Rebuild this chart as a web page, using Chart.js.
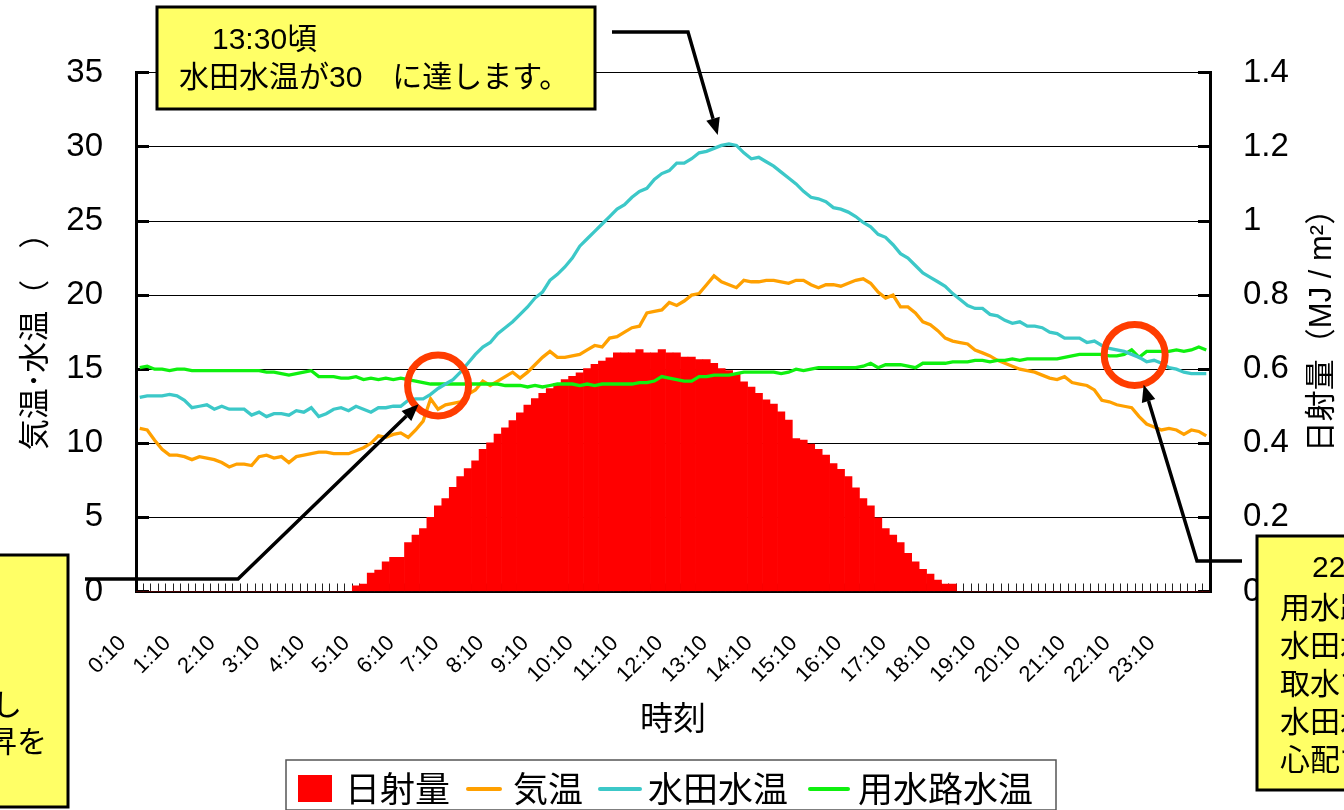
<!DOCTYPE html>
<html lang="ja">
<head>
<meta charset="utf-8">
<title>気温・水温と日射量</title>
<script src="https://cdn.jsdelivr.net/npm/chart.js@4.4.1/dist/chart.umd.min.js"></script>
<style>
  html, body { margin: 0; padding: 0; background: #fff; }
  #contenedor { width: 1344px; height: 810px; }
</style>
</head>
<body>
<div id="contenedor"><canvas id="myChart" width="1344" height="810"></canvas></div>
<script>
// ---- DATOS (10 minutos, 0:10 - 24:00) ----
let horas = []
for (let k = 1; k <= 144; k++) {
    let m = k * 10
    horas.push(`${Math.floor(m / 60)}:${String(m % 60).padStart(2, '0')}`)
}

// 日射量 (MJ/m2)
const radiacion = [
    0,0,0,0,0,0, 0,0,0,0,0,0, 0,0,0,0,0,0, 0,0,0,0,0,0,
    0,0,0,0,0,0.015, 0.02,0.05,0.058,0.08,0.092,0.092,
    0.132,0.152,0.17,0.2,0.231,0.251, 0.281,0.31,0.332,0.353,0.384,0.401,
    0.425,0.442,0.461,0.482,0.503,0.521, 0.535,0.548,0.562,0.572,0.581,0.59,
    0.602,0.613,0.622,0.631,0.644,0.644, 0.644,0.653,0.644,0.644,0.653,0.644,
    0.644,0.633,0.633,0.626,0.626,0.616, 0.602,0.596,0.586,0.566,0.552,0.535,
    0.517,0.506,0.485,0.463,0.413,0.409, 0.398,0.384,0.368,0.345,0.33,0.31,
    0.28,0.251,0.231,0.199,0.17,0.152, 0.132,0.103,0.08,0.06,0.047,0.031,
    0.02,0.02,0,0,0,0, 0,0,0,0,0,0,
    0,0,0,0,0,0, 0,0,0,0,0,0, 0,0,0,0,0,0, 0,0,0,0,0,0
]

// 気温
const kion = [
    11.0,10.9,10.2,9.6,9.2,9.2, 9.1,8.9,9.1,9.0,8.9,8.7,
    8.4,8.6,8.6,8.5,9.1,9.2, 9.0,9.1,8.7,9.1,9.2,9.3,
    9.4,9.4,9.3,9.3,9.3,9.5, 9.7,10.0,10.5,10.4,10.6,10.7,
    10.4,10.9,11.5,13.0,12.3,12.6, 12.7,12.8,13.3,13.6,14.2,13.9,
    14.2,14.5,14.8,14.4,14.8,15.3, 15.8,16.2,15.8,15.8,15.9,16.0,
    16.3,16.6,16.5,17.1,17.2,17.5, 17.8,17.9,18.8,18.9,19.0,19.5,
    19.3,19.6,20.0,20.1,20.7,21.3, 20.9,20.7,20.5,21.0,20.9,20.9,
    21.0,21.0,20.9,20.8,21.0,21.0, 20.7,20.5,20.7,20.7,20.6,20.8,
    21.0,21.1,20.8,20.2,19.8,20.0, 19.2,19.2,18.8,18.2,18.0,17.6,
    17.1,16.9,16.8,16.7,16.3,16.1, 15.9,15.6,15.4,15.2,15.0,14.9,
    14.8,14.6,14.4,14.3,14.5,14.1, 14.0,13.9,13.6,12.9,12.8,12.6,
    12.5,12.4,11.8,11.3,11.1,10.9, 11.0,10.9,10.6,10.9,10.8,10.5
]

// 水田水温
const suidenSuion = [
    13.1,13.2,13.2,13.2,13.3,13.2, 12.9,12.4,12.5,12.6,12.3,12.5,
    12.3,12.3,12.3,11.9,12.1,11.8, 12.0,12.0,11.9,12.2,12.1,12.4,
    11.8,12.0,12.3,12.4,12.2,12.5, 12.3,12.1,12.4,12.4,12.5,12.5,
    12.9,13.0,13.0,13.3,13.7,14.0, 14.3,14.8,15.4,16.0,16.5,16.8,
    17.4,17.8,18.2,18.7,19.2,19.8, 20.2,21.0,21.4,21.9,22.5,23.3,
    23.8,24.3,24.8,25.3,25.8,26.1, 26.6,27.0,27.2,27.8,28.2,28.4,
    28.9,28.9,29.2,29.6,29.7,29.9, 30.1,30.2,30.1,29.6,29.2,29.3,
    29.0,28.7,28.3,27.9,27.5,27.0, 26.6,26.5,26.3,25.9,25.8,25.6,
    25.3,24.9,24.6,24.1,23.9,23.4, 22.8,22.5,22.0,21.5,21.2,20.9,
    20.6,20.1,19.7,19.3,19.1,19.1, 18.7,18.6,18.3,18.1,18.2,17.9,
    17.9,17.8,17.5,17.4,17.1,17.1, 17.1,16.8,16.9,16.6,16.4,16.3,
    16.2,16.0,15.8,15.5,15.6,15.4, 15.1,15.0,14.8,14.7,14.7,14.7
]

// 用水路水温
const yousuiroSuion = [
    15.1,15.2,15.0,15.0,14.9,15.0, 15.0,14.9,14.9,14.9,14.9,14.9,
    14.9,14.9,14.9,14.9,14.9,14.8, 14.8,14.7,14.6,14.7,14.8,14.9,
    14.5,14.5,14.5,14.4,14.4,14.5, 14.3,14.4,14.3,14.4,14.3,14.4,
    14.3,14.2,14.1,14.0,14.0,14.0, 14.0,14.0,14.0,14.0,14.0,14.0,
    14.0,13.9,13.9,13.9,13.8,13.9, 13.8,13.9,14.0,14.0,14.0,13.9,
    14.0,13.9,14.0,14.0,14.0,14.0, 14.0,14.1,14.1,14.2,14.5,14.4,
    14.3,14.2,14.2,14.5,14.5,14.6, 14.6,14.6,14.7,14.8,14.8,14.8,
    14.8,14.8,14.7,14.8,15.0,14.9, 15.0,15.1,15.1,15.1,15.1,15.1,
    15.1,15.2,15.4,15.1,15.3,15.3, 15.3,15.2,15.1,15.4,15.4,15.4,
    15.4,15.5,15.5,15.5,15.6,15.6, 15.5,15.6,15.6,15.7,15.6,15.7,
    15.7,15.7,15.7,15.7,15.8,15.9, 16.0,16.0,16.0,16.0,15.9,15.9,
    16.0,16.3,15.8,16.2,16.2,16.2, 16.2,16.3,16.2,16.3,16.5,16.3
]

const nombres = ['日射量', '気温', '水田水温', '用水路水温']
const colores = ['#ff0000', '#ffa000', '#3cc8c8', '#0ff00f']

const fuenteNum = "'Liberation Sans', Arial, sans-serif"
const fuenteJp = "'Liberation Sans', 'Noto Sans CJK JP', sans-serif"

// ---- DIBUJOS DE APOYO ----
function caja(ctx, x1, y1, x2, y2) {
    ctx.fillStyle = '#ffff66'
    ctx.fillRect(x1, y1, x2 - x1, y2 - y1)
    ctx.lineWidth = 3
    ctx.strokeStyle = '#000'
    ctx.strokeRect(x1, y1, x2 - x1, y2 - y1)
}

function flecha(ctx, puntos, punta) {
    let prev = puntos[puntos.length - 1]
    let ang = Math.atan2(punta[1] - prev[1], punta[0] - prev[0])
    let largo = 17
    let base = [punta[0] - largo * Math.cos(ang), punta[1] - largo * Math.sin(ang)]
    ctx.strokeStyle = '#000'
    ctx.lineWidth = 3.5
    ctx.lineJoin = 'miter'
    ctx.beginPath()
    ctx.moveTo(puntos[0][0], puntos[0][1])
    puntos.slice(1).forEach(p => ctx.lineTo(p[0], p[1]))
    ctx.lineTo(base[0], base[1])
    ctx.stroke()
    ctx.fillStyle = '#000'
    ctx.beginPath()
    ctx.moveTo(punta[0], punta[1])
    ctx.lineTo(base[0] + 7 * Math.sin(ang), base[1] - 7 * Math.cos(ang))
    ctx.lineTo(base[0] - 7 * Math.sin(ang), base[1] + 7 * Math.cos(ang))
    ctx.closePath()
    ctx.fill()
}

function circulo(ctx, cx, cy) {
    ctx.strokeStyle = '#ff3c00'
    ctx.lineWidth = 7
    ctx.beginPath()
    ctx.arc(cx, cy, 30.5, 0, Math.PI * 2)
    ctx.stroke()
}

function textos(ctx, lineas, font) {
    ctx.font = font
    ctx.fillStyle = '#000'
    ctx.textBaseline = 'middle'
    lineas.forEach(([t, x, y, al]) => {
        ctx.textAlign = al || 'left'
        ctx.fillText(t, x, y)
    })
}

// ---- PLUGIN: TITULOS, LEYENDA Y ANOTACIONES ----
const anotaciones = {
    id: 'anotaciones',
    afterDraw(chart) {
        const ctx = chart.ctx
        const x = chart.scales.x
        const y = chart.scales.y
        ctx.save()

        // titulos de ejes
        ctx.fillStyle = '#000'
        ctx.textAlign = 'center'
        ctx.textBaseline = 'middle'
        ctx.font = "31px 'Noto Sans CJK JP', sans-serif"
        ctx.save()
        ctx.translate(33, 334)
        ctx.rotate(-Math.PI / 2)
        ctx.fillText('気温･水温（　）', 0, 0)
        ctx.restore()
        ctx.save()
        ctx.translate(1322, 323)
        ctx.rotate(-Math.PI / 2)
        ctx.font = "31px " + fuenteJp
        ctx.fillText('日射量（MJ / m²）', 0, 0)
        ctx.restore()
        ctx.font = "33px 'Noto Sans CJK JP', sans-serif"
        ctx.fillText('時刻', (chart.chartArea.left + chart.chartArea.right) / 2, 717)

        // leyenda
        ctx.strokeStyle = '#555'
        ctx.lineWidth = 1.5
        ctx.fillStyle = '#fff'
        ctx.fillRect(286, 760, 770, 50)
        ctx.strokeRect(286, 760, 770, 50)
        ctx.fillStyle = colores[0]
        ctx.fillRect(298, 775, 34, 27)
        let lineasLeyenda = [[468, 500], [600, 640], [810, 848]]
        lineasLeyenda.forEach(([a, b], k) => {
            ctx.strokeStyle = colores[k + 1]
            ctx.lineWidth = 4
            ctx.lineCap = 'round'
            ctx.beginPath()
            ctx.moveTo(a, 789)
            ctx.lineTo(b, 789)
            ctx.stroke()
        })
        ctx.lineCap = 'butt'
        textos(ctx, [
            [nombres[0], 345, 789], [nombres[1], 513, 789],
            [nombres[2], 648, 789], [nombres[3], 858, 789]
        ], "35px 'Noto Sans CJK JP', sans-serif")

        // circulos
        let c1 = [x.getPixelForValue(40), y.getPixelForValue(13.9)]
        let c2 = [x.getPixelForValue(133.4), y.getPixelForValue(15.96)]
        circulo(ctx, c1[0], c1[1])
        circulo(ctx, c2[0], c2[1])

        // caja superior
        caja(ctx, 157, 7, 595, 109)
        textos(ctx, [
            ['13:30頃', 212, 41],
            ['水田水温が30　に達します。', 179, 79]
        ], "30px " + fuenteJp)
        flecha(ctx, [[612, 32], [688, 32]], [x.getPixelForValue(77.5), y.getPixelForValue(30.8)])

        // caja izquierda
        caja(ctx, -5, 555, 68, 807)
        textos(ctx, [
            ['日射を受けて水温が上昇し', 22, 707, 'right'],
            ['用水路水温を超える上昇を', 47, 744, 'right']
        ], "30px " + fuenteJp)
        let v1 = [238 - c1[0], 579 - c1[1]]
        let n1 = Math.hypot(v1[0], v1[1])
        flecha(ctx, [[85, 579], [238, 579]], [c1[0] + 27 * v1[0] / n1, c1[1] + 27 * v1[1] / n1])

        // caja derecha
        caja(ctx, 1257, 536, 1350, 790)
        textos(ctx, [
            ['22:30頃', 1312, 569],
            ['用水路水温が', 1280, 610],
            ['水田水温を上回ります。', 1280, 648],
            ['取水するなら', 1280, 686],
            ['水田水温の低下が', 1280, 724],
            ['心配です。', 1280, 762]
        ], "30px " + fuenteJp)
        let v2 = [1197 - c2[0], 561 - c2[1]]
        let n2 = Math.hypot(v2[0], v2[1])
        flecha(ctx, [[1242, 561], [1197, 561]], [c2[0] + 31 * v2[0] / n2, c2[1] + 31 * v2[1] / n2])

        ctx.restore()
    }
}

// ---- GRAFICO ----
const grafico = document.querySelector('#myChart')

const config = {
    type: 'bar',
    data: {
        labels: horas,
        datasets: [
            {
                type: 'line', label: nombres[2], data: suidenSuion, yAxisID: 'y',
                borderColor: colores[2], borderWidth: 3.3, pointRadius: 0, tension: 0, order: 1
            },
            {
                type: 'line', label: nombres[3], data: yousuiroSuion, yAxisID: 'y',
                borderColor: colores[3], borderWidth: 3.3, pointRadius: 0, tension: 0, order: 2
            },
            {
                type: 'line', label: nombres[1], data: kion, yAxisID: 'y',
                borderColor: colores[1], borderWidth: 3.3, pointRadius: 0, tension: 0, order: 3
            },
            {
                type: 'bar', label: nombres[0], data: radiacion, yAxisID: 'y1',
                backgroundColor: colores[0], borderWidth: 0,
                barPercentage: 1, categoryPercentage: 1, order: 10
            }
        ]
    },
    options: {
        responsive: false,
        animation: false,
        layout: { padding: { top: 72.8, left: 0, right: 0, bottom: 0 } },
        plugins: { legend: { display: false }, tooltip: { enabled: false } },
        scales: {
            x: {
                afterFit: s => { s.height = 218.5 },
                grid: {
                    offset: true, drawOnChartArea: false, drawTicks: true,
                    tickLength: -8, tickWidth: 1, tickColor: '#222'
                },
                border: { display: true, color: '#000', width: 2 },
                ticks: {
                    autoSkip: false, maxRotation: 45, minRotation: 45, padding: 47, labelOffset: -17,
                    color: '#000', font: { family: fuenteNum, size: 22 },
                    callback: (v, i) => horas[i].endsWith(':10') ? horas[i] : ''
                }
            },
            y: {
                position: 'left', min: 0, max: 35,
                afterFit: s => { s.width = 136 },
                grid: { color: '#000', lineWidth: 1, tickLength: -13, tickWidth: 3, tickColor: '#000' },
                border: { color: '#000', width: 3 },
                ticks: { stepSize: 5, padding: 46, color: '#000', font: { family: fuenteNum, size: 33 } }
            },
            y1: {
                position: 'right', min: 0, max: 1.4,
                afterFit: s => { s.width = 134 },
                grid: { drawOnChartArea: false, tickLength: -12, tickWidth: 3, tickColor: '#000' },
                border: { color: '#000', width: 3 },
                ticks: {
                    stepSize: 0.2, padding: 45, color: '#000', font: { family: fuenteNum, size: 33 },
                    callback: v => String(+v.toFixed(1))
                }
            }
        }
    },
    plugins: [anotaciones]
}

let nuevoGrafico = new Chart(grafico, config)
</script>
</body>
</html>
